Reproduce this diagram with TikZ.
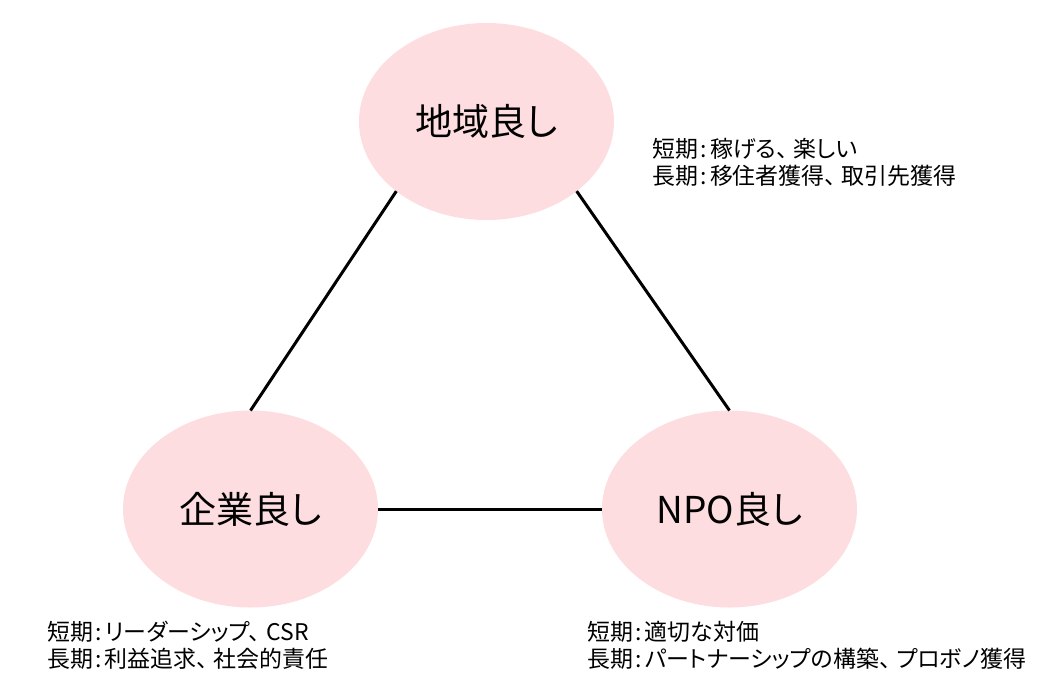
\documentclass[tikz,border=0pt]{standalone}
\usepackage{fontspec}
\setmainfont{Noto Sans CJK JP}[RawFeature={+palt}]
\usetikzlibrary{shapes.geometric}
\definecolor{pinkfill}{RGB}{253,221,224}
\newcommand{\kolon}{\hspace{0.12em}:\hspace{0.12em}}
\newcommand{\tou}{、\hspace{0.25em}}
\tikzset{
  good/.style={ellipse, fill=pinkfill, draw=none, inner sep=0pt, outer sep=0pt,
    minimum width=191.25pt, minimum height=147.75pt,
    font=\fontsize{27.75pt}{33pt}\selectfont},
  link/.style={line width=2.25pt, black},
  note/.style={anchor=west, align=left, inner sep=0pt,
    font=\fontsize{17.2pt}{20.25pt}\selectfont}
}
\begin{document}
\begin{tikzpicture}[x=0.75pt,y=-0.75pt]
\useasboundingbox (0,0) rectangle (1038,682);
\node[good] (chiiki) at (486.5,121.5) {地域良し};
\node[good] (kigyo) at (250.5,509) {企業良し};
\node[good] (npo) at (729.5,509) {NPO良し};
\draw[link] (chiiki.south west) -- (kigyo.north);
\draw[link] (chiiki.south east) -- (npo.north);
\draw[link] (kigyo.east) -- (npo.west);
\node[note] (n1) at (652,162) {短期\kolon 稼げる\tou 楽しい\\長期\kolon 移住者獲得\tou 取引先獲得};
\node[note] (n2) at (47,645) {短期\kolon リーダーシップ\tou CSR\\長期\kolon 利益追求\tou 社会的責任};
\node[note] (n3) at (587,645) {短期\kolon 適切な対価\\長期\kolon パートナーシップの構築\tou プロボノ獲得};
\end{tikzpicture}
\end{document}
